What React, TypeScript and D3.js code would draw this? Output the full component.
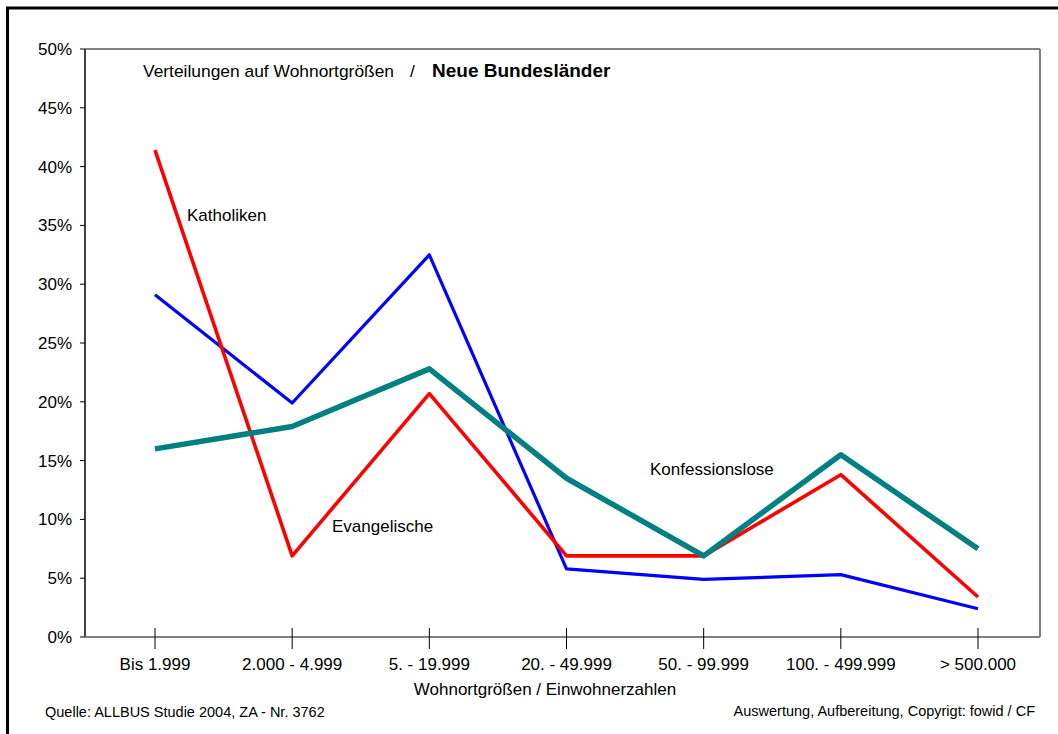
import * as d3 from "d3";

const categories = [
  "Bis 1.999",
  "2.000 - 4.999",
  "5. - 19.999",
  "20. - 49.999",
  "50. - 99.999",
  "100. - 499.999",
  "> 500.000",
];

const katholiken = [41.4, 6.9, 20.7, 6.9, 6.9, 13.8, 3.4];
const evangelische = [29.1, 19.9, 32.5, 5.8, 4.9, 5.3, 2.4];
const konfessionslose = [16.0, 17.9, 22.8, 13.5, 6.9, 15.5, 7.5];

const yTicks = [0, 5, 10, 15, 20, 25, 30, 35, 40, 45, 50];

const series = [
  { name: "Evangelische", values: evangelische, color: "#0000FF", width: 3.2 },
  { name: "Katholiken", values: katholiken, color: "#FF0000", width: 3.6 },
  { name: "Konfessionslose", values: konfessionslose, color: "#008080", width: 5.5 },
];

const W = 1058;
const H = 734;
const plot = { left: 85, right: 1040, top: 49, bottom: 637 };
const font = "'Liberation Sans', Arial, sans-serif";

export default function App() {
  const x = d3
    .scalePoint<string>()
    .domain(categories)
    .range([plot.left, plot.right])
    .padding(0.5);
  // pull the points to match the original's slightly asymmetric spacing
  const xPos = d3
    .scaleLinear()
    .domain([x(categories[0])!, x(categories[categories.length - 1])!])
    .range([155, 978]);
  const px = (c: string) => xPos(x(c)!);

  const y = d3.scaleLinear().domain([0, 50]).range([plot.bottom, plot.top]);

  const line = d3
    .line<number>()
    .x((_, i) => px(categories[i]))
    .y((d) => y(d));

  return (
    <svg
      width={W}
      height={H}
      viewBox={`0 0 ${W} ${H}`}
      style={{ position: "absolute", left: 0, top: 0, background: "#fff" }}
      fontFamily={font}
    >
      <rect x={0} y={0} width={W} height={H} fill="#fff" />
      {/* outer frame (runs off the image on the right and bottom) */}
      <rect x={7.5} y={8} width={2000} height={2000} fill="none" stroke="#000" strokeWidth={3} />

      {/* plot area border */}
      <line x1={plot.left} x2={plot.right} y1={plot.top} y2={plot.top} stroke="#808080" strokeWidth={2} />
      <line x1={plot.right} x2={plot.right} y1={plot.top} y2={plot.bottom} stroke="#808080" strokeWidth={2} />
      <line x1={plot.left} x2={plot.left} y1={plot.top} y2={plot.bottom} stroke="#404040" strokeWidth={2} />
      <line x1={plot.left} x2={plot.right} y1={plot.bottom} y2={plot.bottom} stroke="#808080" strokeWidth={2} />

      {/* y axis ticks + labels */}
      {yTicks.map((t) => (
        <g key={t}>
          <line x1={80} x2={plot.left} y1={y(t)} y2={y(t)} stroke="#000" strokeWidth={1} />
          <text x={72} y={y(t) + 6} textAnchor="end" fontSize={17} fill="#000">
            {t}%
          </text>
        </g>
      ))}

      {/* x axis ticks + labels */}
      {categories.map((c) => (
        <g key={c}>
          <line x1={px(c)} x2={px(c)} y1={628} y2={649} stroke="#000" strokeWidth={1} />
          <text x={px(c)} y={670} textAnchor="middle" fontSize={17} fill="#000">
            {c}
          </text>
        </g>
      ))}

      {/* lines */}
      {series.map((s) => (
        <path
          key={s.name}
          d={line(s.values) ?? ""}
          fill="none"
          stroke={s.color}
          strokeWidth={s.width}
          strokeLinejoin="round"
        />
      ))}

      {/* titles and annotations */}
      <text x={143} y={77} fontSize={17.4} fill="#000">
        Verteilungen auf Wohnortgrößen
      </text>
      <text x={410} y={77} fontSize={17.4} fill="#000">
        /
      </text>
      <text x={432} y={77} fontSize={19} fontWeight="bold" fill="#000">
        Neue Bundesländer
      </text>
      <text x={187} y={221} fontSize={17} fill="#000">
        Katholiken
      </text>
      <text x={332} y={532} fontSize={17} fill="#000">
        Evangelische
      </text>
      <text x={650} y={475} fontSize={17} fill="#000">
        Konfessionslose
      </text>

      <text x={545} y={695} textAnchor="middle" fontSize={17} fill="#000">
        Wohnortgrößen / Einwohnerzahlen
      </text>
      <text x={45} y={717} fontSize={14.5} fill="#000">
        Quelle: ALLBUS Studie 2004, ZA - Nr. 3762
      </text>
      <text x={1035} y={716} textAnchor="end" fontSize={14.5} fill="#000">
        Auswertung, Aufbereitung, Copyrigt: fowid / CF
      </text>
    </svg>
  );
}
